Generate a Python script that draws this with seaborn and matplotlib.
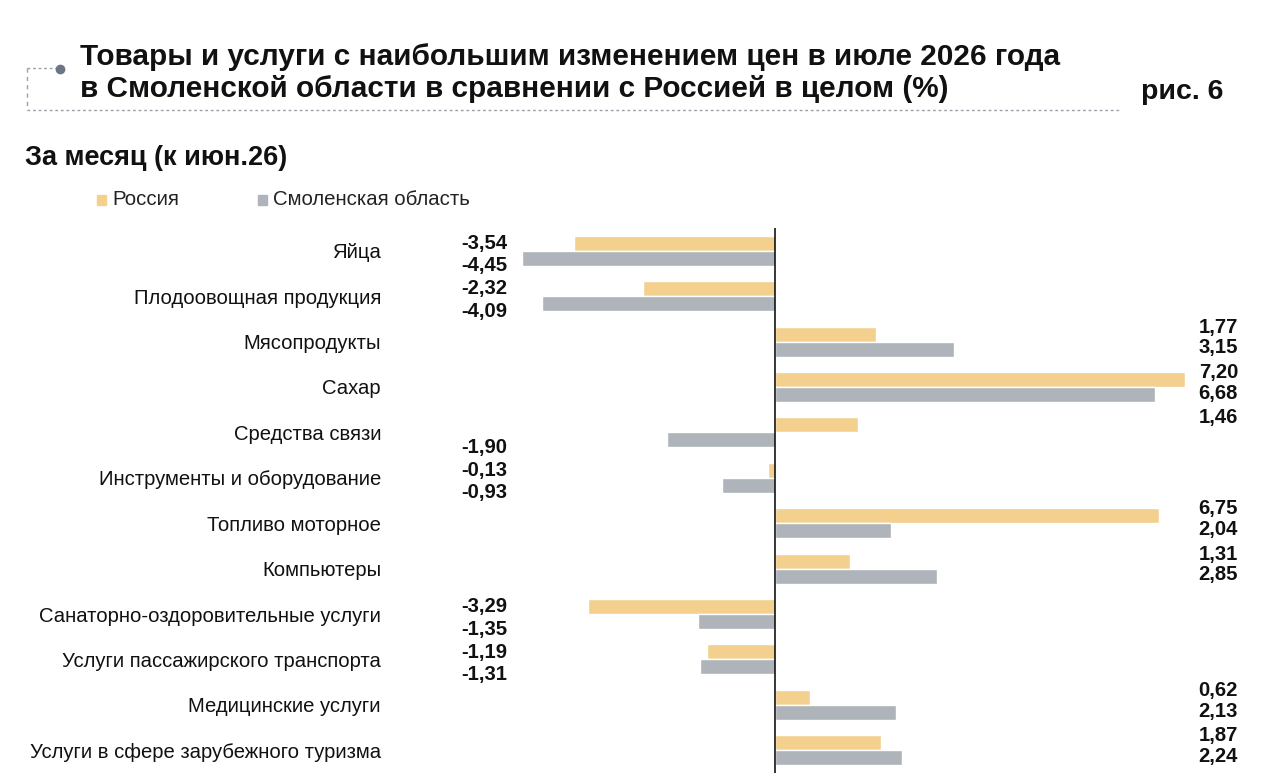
import matplotlib
matplotlib.use("Agg")
import matplotlib.pyplot as plt
import matplotlib.patches as mpatches
import matplotlib.lines as mlines
import matplotlib.transforms as mtrans
import seaborn as sns
import pandas as pd

categories = [
    "Яйца",
    "Плодоовощная продукция",
    "Мясопродукты",
    "Сахар",
    "Средства связи",
    "Инструменты и оборудование",
    "Топливо моторное",
    "Компьютеры",
    "Санаторно-оздоровительные услуги",
    "Услуги пассажирского транспорта",
    "Медицинские услуги",
    "Услуги в сфере зарубежного туризма",
]
russia = [-3.54, -2.32, 1.77, 7.20, 1.46, -0.13, 6.75, 1.31, -3.29, -1.19, 0.62, 1.87]
smolensk = [-4.45, -4.09, 3.15, 6.68, -1.90, -0.93, 2.04, 2.85, -1.35, -1.31, 2.13, 2.24]
series_names = ["Россия", "Смоленская область"]
colors = ["#F3D08E", "#AEB4BA"]

title_lines = [
    "Товары и услуги с наибольшим изменением цен в июле 2026 года",
    "в Смоленской области в сравнении с Россией в целом (%)",
]
fig_label = "рис. 6"
subtitle = "За месяц (к июн.26)"

df = pd.DataFrame({
    "cat": categories * 2,
    "value": russia + smolensk,
    "series": [series_names[0]] * len(categories) + [series_names[1]] * len(categories),
})

sns.set_theme(style="white")
plt.rcParams["font.family"] = ["Liberation Sans", "DejaVu Sans"]

W, H = 1274, 777
fig = plt.figure(figsize=(W / 100, H / 100), dpi=100)
fig.patch.set_facecolor("white")

def fx(px):
    return px / W

def fy(py):
    return 1 - py / H

ax_left, ax_right, ax_top, ax_bot = 440, 1215, 228, 773
ax = fig.add_axes([fx(ax_left), fy(ax_bot), (ax_right - ax_left) / W, (ax_bot - ax_top) / H])
ax.set_facecolor("white")

sns.barplot(data=df, y="cat", x="value", hue="series", order=categories,
            hue_order=series_names, palette=colors, orient="h", width=0.66,
            saturation=1, legend=False, ax=ax)

scale = 56.9  # px per unit
ax.set_xlim(-(775 - ax_left) / scale, (ax_right - 775) / scale)
ax.set_ylim(len(categories) - 0.5, -0.5)
ax.axvline(0, color="black", lw=1.1)
for s in ax.spines.values():
    s.set_visible(False)
ax.set_xticks([])
ax.set_xlabel("")
ax.set_ylabel("")
ax.tick_params(axis="y", length=0, pad=(ax_left - 381) * 0.72, labelsize=14.6)
for t in ax.get_yticklabels():
    t.set_color("#111111")

# value labels at fixed columns
tr = mtrans.blended_transform_factory(fig.transFigure, ax.transData)
def fmt(v):
    return f"{v:.2f}".replace(".", ",")
for i, (r, s) in enumerate(zip(russia, smolensk)):
    for v, k in ((r, 0), (s, 1)):
        if v < 0:
            xpos = fx(507)
            off = -0.16 if k == 0 else 0.33
        else:
            xpos = fx(1238)
            off = -0.32 if k == 0 else 0.14
        ax.text(xpos, i + off, fmt(v), transform=tr, ha="right", va="center",
                fontsize=14.6, fontweight="bold", color="#111111")

# title
fig.text(fx(80), fy(57), title_lines[0], ha="left", va="center", fontsize=21.4,
         fontweight="bold", color="#111111")
fig.text(fx(80), fy(89), title_lines[1], ha="left", va="center", fontsize=21.4,
         fontweight="bold", color="#111111")
fig.text(fx(1223), fy(92), fig_label, ha="right", va="center", fontsize=20.5,
         fontweight="bold", color="#111111")

# dotted frame
fc = "#9AA0AA"
fig.add_artist(mlines.Line2D([fx(27), fx(1120)], [fy(110), fy(110)], color=fc, lw=1,
                             ls=(0, (2, 2)), transform=fig.transFigure))
fig.add_artist(mlines.Line2D([fx(27), fx(27)], [fy(68), fy(110)], color=fc, lw=1,
                             ls=(0, (3, 3)), transform=fig.transFigure))
fig.add_artist(mlines.Line2D([fx(27), fx(56)], [fy(68), fy(68)], color=fc, lw=1,
                             ls=(0, (2, 2)), transform=fig.transFigure))
fig.add_artist(mlines.Line2D([fx(60)], [fy(69)], marker="o", markersize=6,
                             color="#6B7587", transform=fig.transFigure))

# subtitle
fig.text(fx(25), fy(158), subtitle, ha="left", va="center", fontsize=19.5,
         fontweight="bold", color="#111111")

# legend
for name, col, x0 in zip(series_names, colors, (97, 258)):
    fig.add_artist(mpatches.Rectangle((fx(x0), fy(205)), 9 / W, 10 / H, color=col,
                                      transform=fig.transFigure))
    fig.text(fx(x0 + 15), fy(199), name, ha="left", va="center", fontsize=14.7,
             color="#222222")

fig.savefig("out.png", dpi=100, facecolor="white")
